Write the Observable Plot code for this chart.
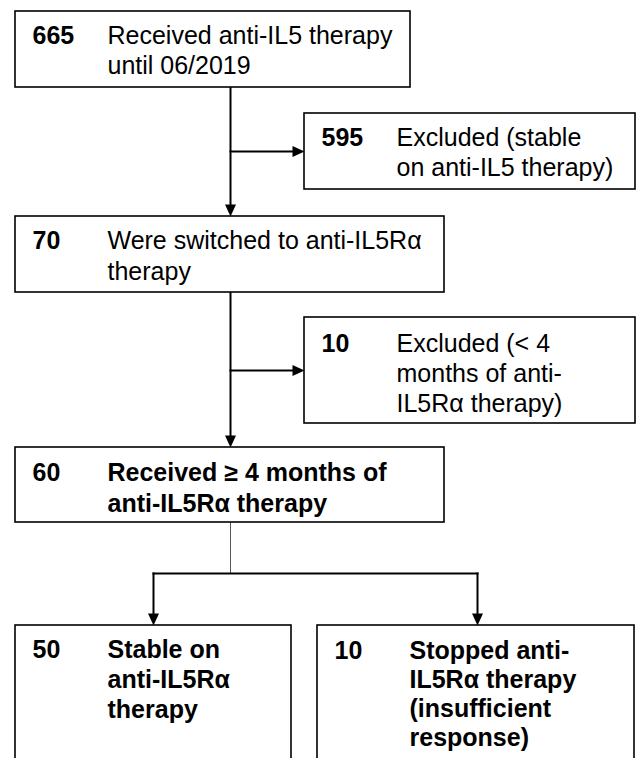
<!DOCTYPE html>
<html>
<head>
<meta charset="utf-8">
<script src="https://cdn.jsdelivr.net/npm/d3@7"></script>
<script src="https://cdn.jsdelivr.net/npm/@observablehq/plot@0.6"></script>
<style>
  html, body { margin: 0; padding: 0; background: #fff; }
  #chart svg { display: block; }
</style>
</head>
<body>
<div id="chart"></div>
<script>
// ---- data: patient counts and box labels (top to bottom, left to right) ----
const counts = [665, 595, 70, 10, 60, 50, 10];
const labels = [
  ["Received anti-IL5 therapy", "until 06/2019"],
  ["Excluded (stable", "on anti-IL5 therapy)"],
  ["Were switched to anti-IL5Rα", "therapy"],
  ["Excluded (< 4", "months of anti-", "IL5Rα therapy)"],
  ["Received ≥ 4 months of", "anti-IL5Rα therapy"],
  ["Stable on", "anti-IL5Rα", "therapy"],
  ["Stopped anti-", "IL5Rα therapy", "(insufficient", "response)"]
];

// ---- layout (pixel units of the 636 x 758 canvas) ----
const W = 636, H = 758;
const boxX1 = [15, 304, 15, 304, 15, 15, 317];
const boxX2 = [410, 635, 444, 635, 444, 291, 634];
const boxY1 = [11, 113, 216, 317, 447, 625, 625];
const boxY2 = [87, 189, 292, 423, 522, 790, 790];
const firstLineY = [35, 137, 240, 343, 472, 649, 650];
const lineStep = [30, 30, 31, 30, 31, 30, 29];
const boldBox = [false, false, false, false, true, true, true];
const numberOffset = 17, labelOffset = 92;
const fontSize = 25;
const headLen = 12, headHalf = 5.5;

// connectors: [x1, y1, x2, y2, head direction, thin]
const connectors = [
  [230, 87, 230, 216, "down", false],
  [230, 151, 304, 151, "right", false],
  [230, 292, 230, 447, "down", false],
  [230, 370, 304, 370, "right", false],
  [230, 522, 230, 573, null, true],
  [153, 573, 477, 573, null, false],
  [153, 573, 153, 625, "down", false],
  [477, 573, 477, 625, "down", false]
];

// ---- build tables for the marks ----
const boxes = counts.map((n, i) => ({
  x1: boxX1[i], x2: boxX2[i], y1: boxY1[i], y2: boxY2[i]
}));
const numbers = counts.map((n, i) => ({
  x: boxX1[i] + numberOffset, y: firstLineY[i], text: String(n)
}));
const lines = labels.flatMap((ls, i) => ls.map((t, j) => ({
  x: boxX1[i] + labelOffset, y: firstLineY[i] + j * lineStep[i], text: t, bold: boldBox[i]
})));
const links = connectors.map(([x1, y1, x2, y2, head, thin]) => {
  let ex = x2, ey = y2;
  if (head === "down") ey = y2 - headLen / 2;
  if (head === "right") ex = x2 - headLen / 2;
  return {x1, y1, x2: ex, y2: ey, thin};
});
const heads = connectors.filter(c => c[4]).map(([x1, y1, x2, y2, head]) => ({
  x: x2, y: y2, rotate: head === "down" ? 0 : -90
}));

// arrowhead symbol: tip at the origin, pointing down
const arrowHead = {
  draw(context) {
    context.moveTo(0, 0);
    context.lineTo(-headHalf, -headLen);
    context.lineTo(headHalf, -headLen);
    context.closePath();
  }
};

const font = "'Liberation Sans', Arial, Helvetica, sans-serif";

const chart = Plot.plot({
  width: W,
  height: H,
  margin: 0,
  x: {domain: [0, W], range: [0, W], axis: null},
  y: {domain: [0, H], range: [0, H], axis: null},
  style: {background: "#fff", fontFamily: font},
  marks: [
    Plot.link(links.filter(d => d.thin), {
      x1: "x1", y1: "y1", x2: "x2", y2: "y2",
      stroke: "#555", strokeWidth: 1
    }),
    Plot.link(links.filter(d => !d.thin), {
      x1: "x1", y1: "y1", x2: "x2", y2: "y2",
      stroke: "#000", strokeWidth: 2, strokeLinecap: "square"
    }),
    Plot.dot(heads, {
      x: "x", y: "y", rotate: "rotate", symbol: arrowHead,
      fill: "#000", stroke: "none", r: 5
    }),
    Plot.rect(boxes, {
      x1: "x1", x2: "x2", y1: "y1", y2: "y2",
      fill: "#fff", stroke: "#000", strokeWidth: 1.6, clip: "frame"
    }),
    Plot.text(numbers, {
      x: "x", y: "y", text: "text", textAnchor: "start", lineAnchor: "middle",
      fontSize, fontWeight: "bold", fill: "#000", fontFamily: font
    }),
    Plot.text(lines.filter(d => !d.bold), {
      x: "x", y: "y", text: "text", textAnchor: "start", lineAnchor: "middle",
      fontSize, fill: "#000", fontFamily: font
    }),
    Plot.text(lines.filter(d => d.bold), {
      x: "x", y: "y", text: "text", textAnchor: "start", lineAnchor: "middle",
      fontSize, fontWeight: "bold", fill: "#000", fontFamily: font
    })
  ]
});

document.getElementById("chart").appendChild(chart);
</script>
</body>
</html>
